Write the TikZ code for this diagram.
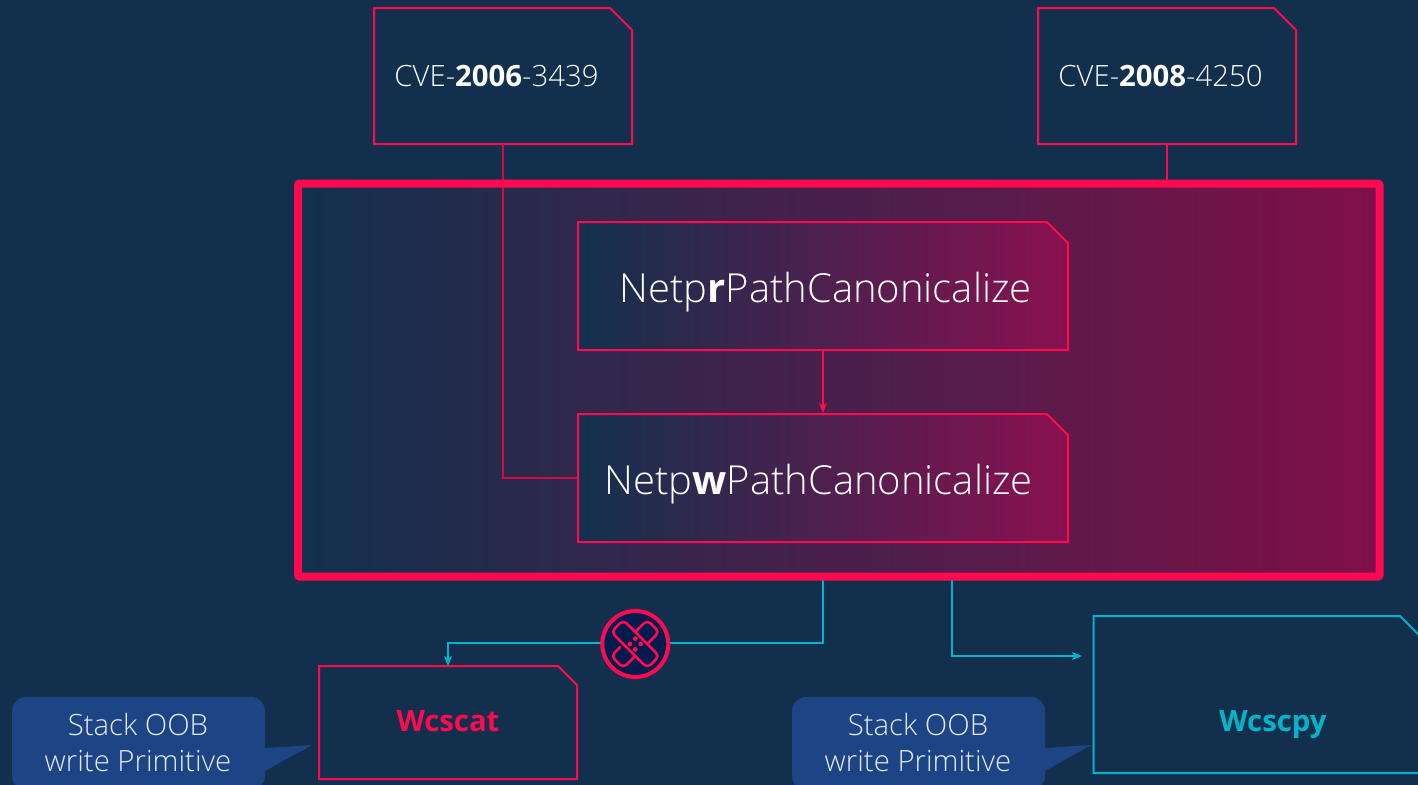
\documentclass[tikz,border=0pt]{standalone}
\usepackage{fontspec}
\setmainfont{Open Sans Light}[BoldFont={Open Sans Bold}]
\usetikzlibrary{fit,arrows.meta,calc}
\definecolor{bgc}{HTML}{12304D}
\definecolor{crim}{HTML}{FF0A50}
\definecolor{deep}{HTML}{8A1050}
\definecolor{framedeep}{HTML}{801049}
\definecolor{teal}{HTML}{00B4CC}
\definecolor{callc}{HTML}{1D4585}
\definecolor{disc}{HTML}{001C4E}
\tikzset{
  anchorbox/.style={inner sep=0pt,outer sep=0pt},
  docline/.style={line width=1.5pt,line join=miter},
  wire/.style={line width=1.1pt},
  tip/.style={-{Stealth[length=7.5pt,width=6pt,inset=2pt]}},
  cvetext/.style={text=white,font=\fontsize{22}{26}\selectfont,inner sep=0pt},
  bigtext/.style={text=white,font=\fontsize{30}{37}\selectfont,inner sep=0pt},
  calltext/.style={text=white!88!callc,font=\fontsize{22}{27}\selectfont,align=center,inner sep=0pt},
  fntext/.style={font=\bfseries\fontsize{22}{26}\selectfont,inner sep=0pt},
}
% name, x1,y1,x2,y2, cut, path options
\newcommand{\docshape}[7]{%
  \node[anchorbox,fit={(#2,#3)(#4,#5)}] (#1) {};
  \path[#7] (#2,#3) -- ({#4-#6},#3) -- (#4,{#3+#6}) -- (#4,#5) -- (#2,#5) -- cycle;
}
\newcommand{\callout}[4]{% name, x-left, tip-x, text-center
  \node[anchorbox,fit={(#2,697)(#2+253,790)},fill=callc,rounded corners=10.5pt] (#1) {};
  \fill[callc] (#2+253,748) -- (#3,745) -- (#2+253,771) -- cycle;
  \node[calltext] at (#4,742) {Stack OOB\\write Primitive};
}
\begin{document}
\begin{tikzpicture}[x=0.75pt,y=-0.75pt]
\useasboundingbox (0,0) rectangle (1418,785);
\clip (0,0) rectangle (1418,785);
\fill[bgc] (0,0) rectangle (1418,785);

% main frame
\node[anchorbox,fit={(298,183.5)(1379.5,576.7)}] (frame) {};
\path[left color=bgc,right color=framedeep] (298,183.5) rectangle (1379.5,576.7);

% CVE boxes
\docshape{cvea}{374}{8}{632}{144}{22}{draw=crim,docline,fill=bgc}
\docshape{cveb}{1038}{8}{1296}{144}{22}{draw=crim,docline,fill=bgc}
\node[cvetext] (cveatext) at (496.5,76) {CVE-\textbf{2006}-3439};
\node[cvetext] (cvebtext) at (1160.5,76) {CVE-\textbf{2008}-4250};

% inner boxes
\docshape{readfn}{578}{222}{1068}{350}{21}{draw=crim,docline,left color=bgc,right color=deep}
\docshape{writefn}{578}{414}{1068}{542}{21}{draw=crim,docline,left color=bgc,right color=deep}
\node[bigtext] (readtext) at (825.5,292.5) {Netp\textbf{r}PathCanonicalize};
\node[bigtext] (writetext) at (818.5,484.5) {Netp\textbf{w}PathCanonicalize};

% pink connectors
\draw[crim!85!black,wire] (cvea.south) |- (writefn.west);
\draw[crim,wire] (cveb.south) -- (cveb.south |- frame.north);
\draw[crim,wire,tip] (readfn.south -| 823,0) -- (823,413);

% bottom boxes
\docshape{wcscat}{319}{666}{577}{779}{19}{draw=crim,docline}
\docshape{wcscpy}{1093.5}{616}{1440}{773}{40}{draw=teal,docline}
\node[fntext,text=crim] (cattext) at (448,721) {Wcscat};
\node[fntext,text=teal] (cpytext) at (1273,725) {Wcscpy};

% teal connectors
\coordinate (cpyend) at (1082,656);
\coordinate (catdrop) at (823,577);
\coordinate (cpydrop) at (952,577);
\draw[teal,wire,tip] (catdrop) -- (823,643) -- (448,643) -- (wcscat.north -| 448,0);
\draw[teal,wire,tip] (cpydrop) |- (cpyend);

% frame outline
\draw[crim,line width=6pt,rounded corners=1.5pt] (frame.north west) rectangle (frame.south east);
\draw[crim!85!black,wire] (cvea.south |- frame.north) ++(0,4) -- ++(0,30);

% patch badge
\node[circle,draw=crim,fill=disc,line width=3pt,minimum size=49.5pt,inner sep=0pt] (patch) at (635.3,644) {};
\begin{scope}[shift={(patch.center)},rotate=-45,crim,line width=2pt,line cap=round]
  \draw[rounded corners=3.6pt] (-25.5,-8.5) rectangle (25.5,8.5);
  \draw[rounded corners=3.6pt] (-8.5,-8.5) -- (-8.5,-25.5) -- (8.5,-25.5) -- (8.5,-8.5);
  \draw[rounded corners=3.6pt] (-8.5,13) -- (-8.5,25.5) -- (8.5,25.5) -- (8.5,8.5);
  \foreach \u in {-1,1}\foreach \v in {-1,1}
    \fill (3.8*\u,3.8*\v) circle (2.4);
\end{scope}

% callouts
\callout{calla}{12}{312}{138}
\callout{callb}{792}{1091}{918}
\end{tikzpicture}
\end{document}
